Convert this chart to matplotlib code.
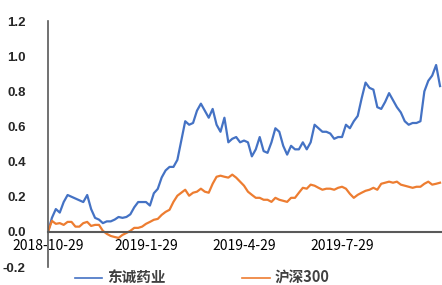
import matplotlib
matplotlib.use('Agg')
import matplotlib.pyplot as plt
from matplotlib import font_manager
import numpy as np

plt.rcParams['font.family'] = ['Noto Sans CJK SC', 'DejaVu Sans']

# relative return since 2018-10-29, sampled about every 4 trading days
dongcheng = [0.00, 0.08, 0.13, 0.11, 0.17, 0.21, 0.20, 0.19, 0.18, 0.17,
             0.21, 0.13, 0.08, 0.07, 0.05, 0.06, 0.06, 0.07, 0.085, 0.08,
             0.085, 0.10, 0.14, 0.17, 0.17, 0.17, 0.15, 0.22, 0.245, 0.31,
             0.35, 0.37, 0.37, 0.41, 0.52, 0.63, 0.61, 0.62, 0.69, 0.73,
             0.69, 0.65, 0.70, 0.61, 0.57, 0.65, 0.51, 0.53, 0.54, 0.51,
             0.52, 0.51, 0.43, 0.47, 0.54, 0.46, 0.45, 0.51, 0.59, 0.57,
             0.49, 0.44, 0.49, 0.47, 0.47, 0.51, 0.47, 0.51, 0.61, 0.59,
             0.57, 0.57, 0.56, 0.53, 0.54, 0.54, 0.61, 0.59, 0.63, 0.66,
             0.76, 0.85, 0.82, 0.81, 0.71, 0.70, 0.74, 0.79, 0.75, 0.71,
             0.68, 0.63, 0.61, 0.62, 0.62, 0.63, 0.80, 0.86, 0.89, 0.95,
             0.83]
hs300 = [0.00, 0.063, 0.046, 0.05, 0.04, 0.057, 0.057, 0.03, 0.03, 0.05,
         0.057, 0.034, 0.04, 0.04, 0.006, -0.011, -0.023, -0.029, -0.034, -0.017,
         -0.006, 0.006, 0.023, 0.023, 0.03, 0.046, 0.057, 0.069, 0.074, 0.097,
         0.114, 0.126, 0.171, 0.206, 0.223, 0.24, 0.206, 0.223, 0.229, 0.246,
         0.229, 0.223, 0.274, 0.314, 0.32, 0.314, 0.309, 0.326, 0.309, 0.286,
         0.263, 0.229, 0.211, 0.194, 0.194, 0.183, 0.183, 0.171, 0.194, 0.183,
         0.177, 0.171, 0.194, 0.194, 0.223, 0.251, 0.246, 0.269, 0.263, 0.251,
         0.24, 0.246, 0.246, 0.24, 0.251, 0.257, 0.246, 0.217, 0.194, 0.211,
         0.223, 0.234, 0.24, 0.251, 0.24, 0.274, 0.28, 0.286, 0.28, 0.286,
         0.269, 0.263, 0.257, 0.251, 0.257, 0.257, 0.274, 0.286, 0.269, 0.274,
         0.28]
tick_labels = ['2018-10-29', '2019-1-29', '2019-4-29', '2019-7-29']
tick_step = 25

x = np.arange(len(dongcheng))

fig = plt.figure(figsize=(4.42, 2.85), dpi=100)
ax = fig.add_axes([0.1086, 0.063, 0.8914, 0.863])

ax.plot(x, dongcheng, color='#4472C4', lw=1.6, label='东诚药业')
ax.plot(x, hs300, color='#ED7D31', lw=1.6, label='沪深300')

tick_font = dict(family='Liberation Sans', size=9.5, weight='bold')
ax.set_xlim(0, len(x) - 0.5)
ax.set_ylim(-0.2, 1.2)
yt = np.arange(-0.2, 1.21, 0.2)
ax.set_yticks(yt)
ax.set_yticklabels(['%.1f' % v for v in yt], fontdict=tick_font, color='#262626')
ax.set_xticks(np.arange(len(tick_labels)) * tick_step)
ax.set_xticklabels(tick_labels, fontdict=tick_font, color='#262626')
ax.tick_params(axis='both', length=0)
ax.tick_params(axis='y', pad=16)
ax.tick_params(axis='x', pad=5)

# zero line acts as the x axis
ax.spines['bottom'].set_position(('data', 0))
ax.spines['bottom'].set_color('#595959')
ax.spines['bottom'].set_linewidth(1.5)
ax.spines['left'].set_color('#595959')
ax.spines['left'].set_linewidth(1.2)
ax.spines['top'].set_visible(False)
ax.spines['right'].set_visible(False)

leg = fig.legend(loc='center', bbox_to_anchor=(0.457, 0.025), ncol=2, frameon=False,
                 prop={'family': ['Noto Sans CJK SC', 'DejaVu Sans'],
                       'weight': 'bold', 'size': 10.5},
                 handlelength=1.9, handletextpad=0.3, columnspacing=5.3,
                 labelcolor='#404040')
for h in leg.legend_handles:
    h.set_linewidth(1.2)

fig.savefig('out.png', dpi=100)
